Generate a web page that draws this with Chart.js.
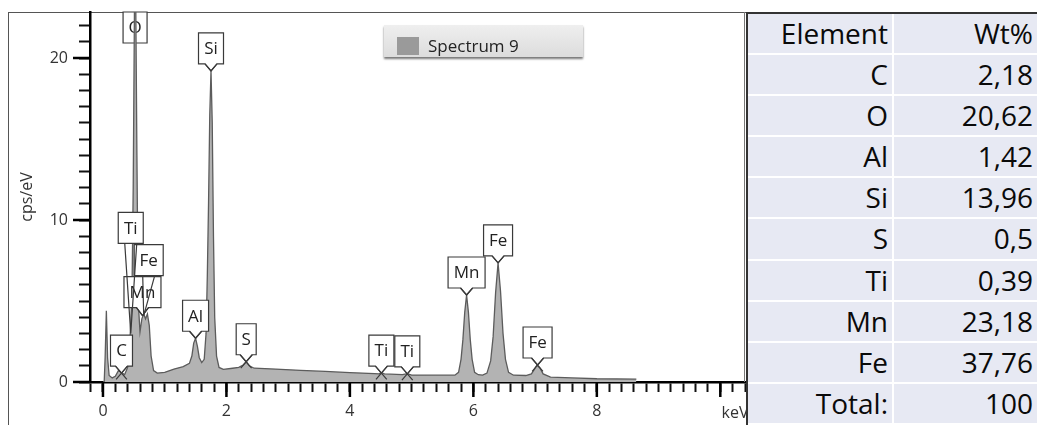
<!DOCTYPE html>
<html>
<head>
<meta charset="utf-8">
<script src="https://cdn.jsdelivr.net/npm/chart.js@4.4.1/dist/chart.umd.min.js"></script>
<style>
  html, body { margin: 0; padding: 0; background: #fff; }
  #wrap { position: relative; width: 1037px; height: 425px; overflow: hidden; font-family: "Open Sans", sans-serif; }
  #frame { position: absolute; left: 8px; top: 12px; width: 740px; height: 420px; border-left: 1px solid #555; border-top: 1px solid #555; box-sizing: border-box; }
  #spectrum { position: absolute; left: 0; top: 0; }
  #legend { position: absolute; left: 384px; top: 25px; width: 199px; height: 32px; background: linear-gradient(#efefef, #dcdcdc); box-shadow: 0 2px 2px #777; }
  #legend .sw { position: absolute; left: 13px; top: 12px; width: 22px; height: 18px; background: #9a9a9a; }
  #legend .tx { position: absolute; left: 44px; top: 11px; font-size: 17px; line-height: 20px; color: #222; }
  #wt { position: absolute; left: 746px; top: 12px; width: 291px; height: 413px; background: #e7e9f3; border-left: 2px solid #333; border-top: 2px solid #333; box-sizing: border-box; }
  #wt .row { display: flex; height: 41.1px; border-bottom: 2px solid #fff; box-sizing: border-box; }
  #wt .c { font-size: 28px; color: #0a0a0a; text-align: right; padding-right: 4px; line-height: 38px; box-sizing: border-box; }
  #wt .c1 { width: 146px; border-right: 2px solid #fff; }
  #wt .c2 { flex: 1; }
</style>
</head>
<body>
<div id="wrap">
  <div id="frame"></div>
  <canvas id="spectrum" width="747" height="425"></canvas>
  <div id="legend"><div class="sw"></div><div class="tx">Spectrum 9</div></div>
  <div id="wt"></div>
</div>
<script>
// spectrum (keV, cps/eV)
const energy = [0, 0.02, 0.035, 0.055, 0.075, 0.10, 0.15, 0.20, 0.25, 0.30, 0.35, 0.40, 0.44, 0.47, 0.49, 0.51, 0.53, 0.55, 0.57,
  0.60, 0.63, 0.66, 0.69, 0.72, 0.75, 0.78, 0.82, 0.88, 1.00, 1.15, 1.30, 1.40, 1.44, 1.47, 1.50, 1.53, 1.56, 1.60,
  1.64, 1.67, 1.69, 1.71, 1.73, 1.75, 1.77, 1.79, 1.81, 1.84, 1.88, 1.95, 2.10, 2.20, 2.27, 2.32, 2.37, 2.45, 2.80,
  3.20, 3.60, 4.00, 4.40, 4.47, 4.51, 4.56, 4.85, 4.93, 5.00, 5.40, 5.70, 5.76, 5.80, 5.83, 5.86, 5.89, 5.92, 5.95,
  5.98, 6.02, 6.08, 6.15, 6.22, 6.28, 6.32, 6.36, 6.40, 6.44, 6.48, 6.52, 6.57, 6.65, 6.85, 6.94, 6.99, 7.03, 7.08,
  7.13, 7.25, 7.60, 8.00, 8.64];
const counts = [0, 0, 1.5, 4.4, 1.5, 0.4, 0.25, 0.35, 0.7, 0.6, 0.45, 0.9, 2.8, 5.5, 12, 23, 24, 14, 5,
  3.1, 3.9, 4.2, 3.9, 4.2, 3.5, 1.6, 0.7, 0.55, 0.6, 0.8, 0.95, 1.15, 1.6, 2.4, 2.7, 2.2, 1.5, 1.2,
  1.4, 3.0, 6.5, 11, 16.5, 19.2, 16, 9, 4, 1.6, 0.9, 0.78, 0.85, 0.9, 1.05, 1.25, 1.0, 0.85, 0.8,
  0.72, 0.65, 0.58, 0.52, 0.5, 0.58, 0.5, 0.45, 0.52, 0.43, 0.42, 0.42, 0.6, 1.4, 2.6, 4.3, 5.37, 4.3, 2.6,
  1.4, 0.6, 0.45, 0.43, 0.55, 1.3, 2.8, 5.5, 7.35, 5.6, 3.0, 1.4, 0.6, 0.42, 0.4, 0.5, 0.8, 1.05, 0.85,
  0.5, 0.3, 0.25, 0.2, 0.18];

// peak labels: element, energy of the pointer tip, height of the tip
const peakNames = ['C', 'O', 'Mn', 'Fe', 'Ti', 'Al', 'Si', 'S', 'Ti', 'Ti', 'Mn', 'Fe', 'Fe'];
const peakKeV = [0.30, 0.52, 0.64, 0.66, 0.45, 1.50, 1.75, 2.32, 4.51, 4.93, 5.89, 6.40, 7.04];
const peakTip = [0.55, null, 4.1, 4.1, 3.0, 2.7, 19.2, 1.25, 0.55, 0.5, 5.37, 7.35, 1.05];

// axis ticks: labelled ones and the minor step between marks
const yLabels = [0, 10, 20];
const xLabels = [0, 2, 4, 6, 8];
const yMinorStep = 1;
const xMinorStep = 0.2;

const tableElements = ['C', 'O', 'Al', 'Si', 'S', 'Ti', 'Mn', 'Fe'];
const tableWt = [2.18, 20.62, 1.42, 13.96, 0.5, 0.39, 23.18, 37.76];
const tableTotal = 100;

// box layout tweaks for the crowded low-energy labels
const labelStyle = {
  1: { top: true },
  2: { lift: 8 },
  3: { lift: 40, dx: 5 },
  4: { lift: 90 }
};

const fmt = v => String(v).replace('.', ',');
const row = (a, b) => `<div class="row"><div class="c c1">${a}</div><div class="c c2">${b}</div></div>`;
let rows = row('Element', 'Wt%');
tableElements.forEach((el, i) => { rows += row(el, fmt(tableWt[i])); });
rows += row('Total:', fmt(tableTotal));
document.getElementById('wt').innerHTML = rows;

const FONT = '"Open Sans", sans-serif';

function drawLabel(chart, i) {
  const ctx = chart.ctx, xs = chart.scales.x, ys = chart.scales.y;
  const st = labelStyle[i] || {};
  const h = 31;
  ctx.font = '17px ' + FONT;
  const w = Math.round(ctx.measureText(peakNames[i]).width) + 11;
  const tipX = xs.getPixelForValue(peakKeV[i]);
  const cx = tipX + (st.dx || 0);
  const l = cx - w / 2, r = cx + w / 2;
  let top, b, tipY;
  if (st.top) {
    top = chart.chartArea.top; b = top + h;
  } else {
    tipY = ys.getPixelForValue(peakTip[i]);
    b = tipY - (st.lift || 7); top = b - h;
  }
  ctx.save();
  ctx.strokeStyle = '#3a3a3a';
  ctx.lineWidth = 1.2;
  ctx.fillStyle = '#fff';
  ctx.beginPath();
  ctx.moveTo(l, top); ctx.lineTo(r, top); ctx.lineTo(r, b);
  const longPtr = !st.top && (st.lift || 7) > 15;
  if (!st.top && !longPtr) {
    ctx.lineTo(cx + 6, b); ctx.lineTo(tipX, tipY); ctx.lineTo(cx - 6, b);
  }
  ctx.lineTo(l, b); ctx.closePath();
  ctx.fill(); ctx.stroke();
  if (!st.top) {
    // small peaks: the pointer sides run on past the tip
    ctx.beginPath();
    const k = longPtr ? 0 : (peakTip[i] < 1.5 ? 0.9 : 0);
    ctx.moveTo(cx - 6, b); ctx.lineTo(tipX + 6 * k, tipY + (tipY - b) * k);
    ctx.moveTo(cx + 6, b); ctx.lineTo(tipX - 6 * k, tipY + (tipY - b) * k);
    ctx.stroke();
  }
  ctx.fillStyle = '#222';
  ctx.textAlign = 'center';
  ctx.textBaseline = 'middle';
  ctx.fillText(peakNames[i], cx, top + h / 2 + 1);
  ctx.restore();
}

const peakPlugin = {
  id: 'peaks',
  beforeDatasetsDraw(chart) {
    peakNames.forEach((n, i) => { if ((labelStyle[i] || {}).top) drawLabel(chart, i); });
  },
  afterDatasetsDraw(chart) {
    peakNames.forEach((n, i) => { if (!(labelStyle[i] || {}).top) drawLabel(chart, i); });
  },
  afterDraw(chart) {
    const ctx = chart.ctx, xs = chart.scales.x, ys = chart.scales.y, a = chart.chartArea;
    ctx.save();
    ctx.strokeStyle = '#777';
    ctx.lineWidth = 1;
    ctx.beginPath(); ctx.moveTo(a.right - 0.5, a.top); ctx.lineTo(a.right - 0.5, a.bottom); ctx.stroke();
    // longer marks at the labelled values
    ctx.strokeStyle = '#000';
    ctx.lineWidth = 2.5;
    ctx.beginPath();
    yLabels.forEach(v => { const y = ys.getPixelForValue(v); ctx.moveTo(a.left - 17, y); ctx.lineTo(a.left, y); });
    xLabels.concat([10]).forEach(v => { const x = xs.getPixelForValue(v); ctx.moveTo(x, a.bottom); ctx.lineTo(x, a.bottom + 15); });
    ctx.stroke();
    ctx.fillStyle = '#333';
    ctx.font = '16px ' + FONT;
    ctx.textAlign = 'center';
    ctx.textBaseline = 'middle';
    ctx.fillText('keV', 735, 413);
    ctx.restore();
  }
};

const noPad = s => { s.paddingTop = 0; s.paddingBottom = 0; s.paddingLeft = 0; s.paddingRight = 0; };
const minorTicks = (s, step) => {
  const out = [];
  const first = Math.ceil(s.min / step - 1e-6);
  for (let k = first; k * step <= s.max + 1e-6; k++) out.push({ value: Math.round(k * step * 100) / 100 });
  s.ticks = out;
};
const isLabel = (list, v) => list.some(t => Math.abs(t - v) < 1e-6);

new Chart(document.getElementById('spectrum'), {
  type: 'line',
  data: {
    datasets: [{
      label: 'Spectrum 9',
      data: energy.map((e, i) => ({ x: e, y: counts[i] })),
      fill: 'origin',
      backgroundColor: '#b3b3b3',
      borderColor: '#5c5c5c',
      borderWidth: 1.3,
      pointRadius: 0,
      tension: 0
    }]
  },
  options: {
    responsive: false,
    animation: false,
    devicePixelRatio: 1,
    layout: { padding: { left: 0, top: 12, right: 2, bottom: 0 } },
    plugins: { legend: { display: false }, tooltip: { enabled: false } },
    scales: {
      x: {
        type: 'linear', min: -0.21, max: 10.4,
        afterFit: s => { s.height = 43; noPad(s); },
        afterBuildTicks: s => minorTicks(s, xMinorStep),
        grid: { display: true, drawOnChartArea: false, drawTicks: true, tickLength: 10, tickWidth: 2, tickColor: '#111', color: '#111' },
        border: { color: '#000', width: 2.5 },
        ticks: {
          padding: 10, color: '#333', font: { family: FONT, size: 16 }, maxRotation: 0, autoSkip: false,
          callback: v => isLabel(xLabels, v) ? String(v) : ''
        }
      },
      y: {
        min: 0, max: 22.84,
        afterFit: s => { s.width = 90; noPad(s); },
        afterBuildTicks: s => minorTicks(s, yMinorStep),
        grid: { display: true, drawOnChartArea: false, drawTicks: true, tickLength: 11, tickWidth: 2, tickColor: '#111', color: '#111' },
        border: { color: '#000', width: 2.5 },
        ticks: {
          padding: 11, color: '#333', font: { family: FONT, size: 16 }, autoSkip: false,
          callback: v => isLabel(yLabels, v) ? String(v) : ''
        },
        title: { display: true, text: 'cps/eV', color: '#333', font: { family: FONT, size: 16 }, padding: { top: 18, bottom: 0 } }
      }
    }
  },
  plugins: [peakPlugin]
});
</script>
</body>
</html>
